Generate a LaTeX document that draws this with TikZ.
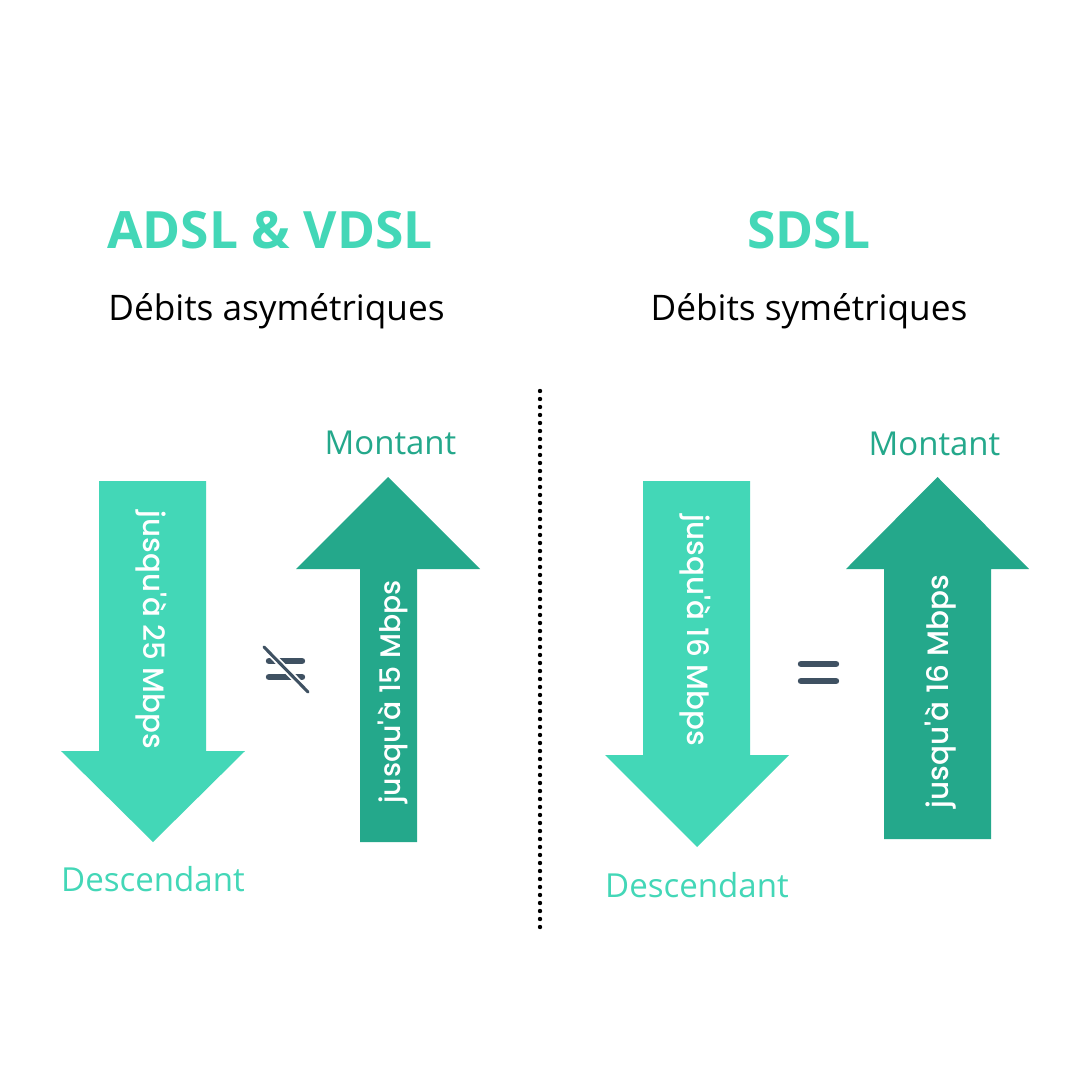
\documentclass[tikz,border=0pt]{standalone}
\usepackage{fontspec}
\setmainfont{Open Sans}
\newfontfamily\arrowfont{Poppins Medium}
\definecolor{lightgreen}{HTML}{43D7B7}
\definecolor{darkgreen}{HTML}{24A88B}
\definecolor{slate}{HTML}{3F5162}
\newcommand{\pxfont}[1]{\fontsize{#1}{#1}\selectfont}
\tikzset{
  x=0.75pt,y=-0.75pt,
  titletext/.style={text=lightgreen,font=\pxfont{38.6}\bfseries,inner sep=0pt},
  subtext/.style={text=black,font=\pxfont{26.4},inner sep=0pt},
  lightlabel/.style={text=lightgreen,font=\pxfont{24.8},inner sep=0pt},
  darklabel/.style={text=darkgreen,font=\pxfont{24.7},inner sep=0pt},
  arrowtext/.style={text=white,font=\arrowfont\pxfont{22},inner sep=0pt},
  bar/.style={slate,line width=4.8pt,line cap=round},
  dots/.style={black,line width=3.3pt,line cap=round,dash pattern=on 0pt off 6pt},
}
\begin{document}
\begin{tikzpicture}
\useasboundingbox (0,0) rectangle (1080,1080);
\fill[white] (0,0) rectangle (1080,1080);
% arrows
\fill[lightgreen] (99,481) -- (206,481) -- (206,751) -- (245,751) -- (153,842) -- (61,751) -- (99,751) -- cycle;
\fill[darkgreen] (388,477) -- (480,569) -- (417,569) -- (417,842) -- (360,842) -- (360,569) -- (296,569) -- cycle;
\fill[lightgreen] (643,481) -- (750,481) -- (750,755) -- (789,755) -- (697,847) -- (605,755) -- (643,755) -- cycle;
\fill[darkgreen] (937.5,477) -- (1029,569) -- (991,569) -- (991,839) -- (884,839) -- (884,569) -- (846,569) -- cycle;
% titles
\node[titletext] (t1) at (270,230) {ADSL \& VDSL};
\node[titletext] (t2) at (809,230) {SDSL};
\node[subtext] (s1) at (276.5,311) {Débits asymétriques};
\node[subtext] (s2) at (809,311) {Débits symétriques};
% labels
\node[darklabel] (m1) at (390.5,443) {Montant};
\node[darklabel] (m2) at (934.5,444) {Montant};
\node[lightlabel] (d1) at (153,879) {Descendant};
\node[lightlabel] (d2) at (697,885) {Descendant};
% rotated
\node[arrowtext,rotate=-90] (a1) at (151,630) {jusqu'à 25 Mbps};
\node[arrowtext,rotate=90,font=\arrowfont\pxfont{21.2}] (a2) at (393,692) {jusqu'à 15 Mbps};
\node[arrowtext,rotate=-90] (a3) at (695,630) {jusqu'à 16 Mbps};
\node[arrowtext,rotate=90,font=\arrowfont\pxfont{22.1}] (a4) at (941,691.5) {jusqu'à 16 Mbps};
% divider
\coordinate (dt) at (540,391);
\coordinate (db) at (540,928);
\draw[dots] (dt) -- (db);
% not equal
\coordinate (n1a) at (269,661); \coordinate (n1b) at (302,661);
\coordinate (n2a) at (269,677); \coordinate (n2b) at (302,677);
\coordinate (sa) at (264,647); \coordinate (sb) at (308,692);
\draw[bar] (n1a) -- (n1b);
\draw[bar] (n2a) -- (n2b);
\draw[white,line width=5pt] (sa) -- (sb);
\draw[slate,line width=2.3pt,line cap=round] (sa) -- (sb);
% equal
\coordinate (e1a) at (801,664); \coordinate (e1b) at (836,664);
\coordinate (e2a) at (801,681); \coordinate (e2b) at (836,681);
\draw[bar] (e1a) -- (e1b);
\draw[bar] (e2a) -- (e2b);
\end{tikzpicture}
\end{document}
